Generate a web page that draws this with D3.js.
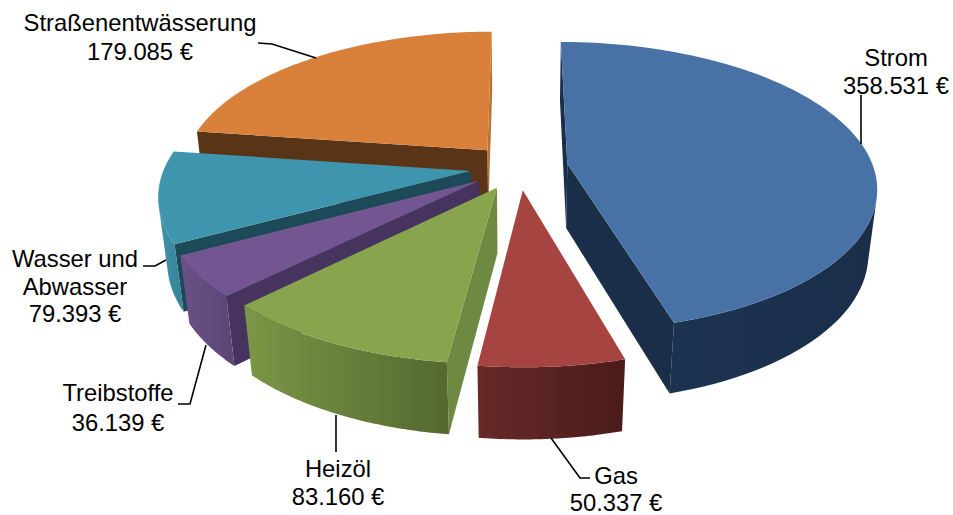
<!DOCTYPE html>
<html><head><meta charset="utf-8">
<script src="https://cdn.jsdelivr.net/npm/d3@7/dist/d3.min.js"></script>
<style>html,body{margin:0;padding:0;background:#fff}svg{display:block}</style>
</head><body><svg id="c" width="953" height="515"></svg>
<script>
// Data
const categories = ["Strom","Gas","Heizöl","Treibstoffe","Wasser und Abwasser","Straßenentwässerung"];
const values = [358531,50337,83160,36139,79393,179085];
const valueLabels = ["358.531 €","50.337 €","83.160 €","36.139 €","79.393 €","179.085 €"];

// Styles: one entry per slice
const topColors  = ["#4872a6","#a64442","#88a54e","#735691","#3f95ad","#d9813a"];
const wallLeft   = ["#1c3350","#662a28","#7a9746","#6a5187","#3f93aa","#9c5f2c"];
const wallRight  = ["#1a2e49","#4a1c1a","#54682f","#5c4575","#378199","#9c5f2c"];
const cutStart   = ["#1a2e49","#4a1c1a","#6e8a42","#46345f","#1d4a58","#5a3416"];
const cutEnd     = ["#1a2e49","#662a28","#6e8a42","#46345f","#1d4a58","#b87434"];

// Scene
const cx=519, cy=167, R=306, tilt=0.463, persp=0.155, depthP=0.025, H=66, explode=0.16;
const paintOrder=[5,4,3,2,1,0];

// Label layout
const labelLayout=[
 {x:896,lines:[[0,66],[1,94]],leader:[[861,95],[861,144]]},
 {x:616,lines:[[0,484],[1,511]],leader:[[551,438],[580,478],[590,478]]},
 {x:338,lines:[[0,477],[1,505]],leader:[[336,415],[336,452]]},
 {x:118,lines:[[0,401],[1,431]],leader:[[206,345],[190,404],[178,404]]},
 {x:75,lines:[[0,267],[1,295],[2,322]],leader:[[166,260],[155,266],[143,266]]},
 {x:140,lines:[[0,31],[1,60]],leader:[[316,58],[272,44],[258,43]]}
];
const labelLines=[
 [categories[0],valueLabels[0]],[categories[1],valueLabels[1]],[categories[2],valueLabels[2]],
 [categories[3],valueLabels[3]],["Wasser und","Abwasser",valueLabels[4]],[categories[5],valueLabels[5]]
];

const pie=d3.pie().sort(null).value(d=>d);
const arcs=pie(values);
const svg=d3.select("#c");
const defs=svg.append("defs");
const line=d3.line();

function project(u,v,z,ox,oy){
  const U=u+ox,V=v+oy;
  const k=1/(1+persp*V+depthP*z);
  return [cx+U*R*k, cy+(-V*R*tilt+z*H)*k];
}
function rim(a,z,ox,oy){return project(Math.sin(a),Math.cos(a),z,ox,oy);}
function area(p){let s=0;p.forEach((q,i)=>{const r=p[(i+1)%p.length];s+=q[0]*r[1]-r[0]*q[1];});return s;}

paintOrder.forEach(i=>{
  const d=arcs[i], a0=d.startAngle, a1=d.endAngle, mid=(a0+a1)/2;
  const ox=Math.sin(mid)*explode, oy=Math.cos(mid)*explode;
  const g=svg.append("g").attr("class","slice");
  const n=80;
  const samples=d3.range(0,n+1).map(t=>a0+(a1-a0)*t/n);
  const A0=project(0,0,0,ox,oy), A1=project(0,0,1,ox,oy);
  const face=(a,fill,sign)=>{
    const p=[A0,rim(a,0,ox,oy),rim(a,1,ox,oy),A1];
    if(area(p)*sign>0) g.append("path").attr("d",line(p)+"Z").attr("fill",fill);
  };
  face(a0,cutStart[i],-1);
  face(a1,cutEnd[i],1);
  // outer wall: keep only camera-facing strips
  const vis=samples.filter((a,j)=>{
    const b=j<n?samples[j+1]:a, c=j<n?a:samples[j-1], e=j<n?b:a;
    return area([rim(c,0,ox,oy),rim(e,0,ox,oy),rim(e,1,ox,oy),rim(c,1,ox,oy)])<0;
  });
  if(vis.length>1){
    const gid="wall"+i;
    const grad=defs.append("linearGradient").attr("id",gid);
    grad.append("stop").attr("offset",0).attr("stop-color",wallLeft[i]);
    grad.append("stop").attr("offset",1).attr("stop-color",wallRight[i]);
    const wall=vis.map(a=>rim(a,0,ox,oy)).concat(vis.slice().reverse().map(a=>rim(a,1,ox,oy)));
    g.append("path").attr("d",line(wall)+"Z").attr("fill",`url(#${gid})`);
  }
  const top=[A0].concat(samples.map(a=>rim(a,0,ox,oy)));
  g.append("path").attr("d",line(top)+"Z").attr("fill",topColors[i]);
});

labelLayout.forEach((l,i)=>{
  svg.append("path").attr("d",line(l.leader)).attr("fill","none").attr("stroke","#000").attr("stroke-width",1.6);
  l.lines.forEach(([t,y])=>{
    svg.append("text").attr("x",l.x).attr("y",y).attr("text-anchor","middle")
      .attr("font-family","'Liberation Sans',Arial,sans-serif").attr("font-size",23.8).attr("fill","#000").text(labelLines[i][t]);
  });
});
</script></body></html>
